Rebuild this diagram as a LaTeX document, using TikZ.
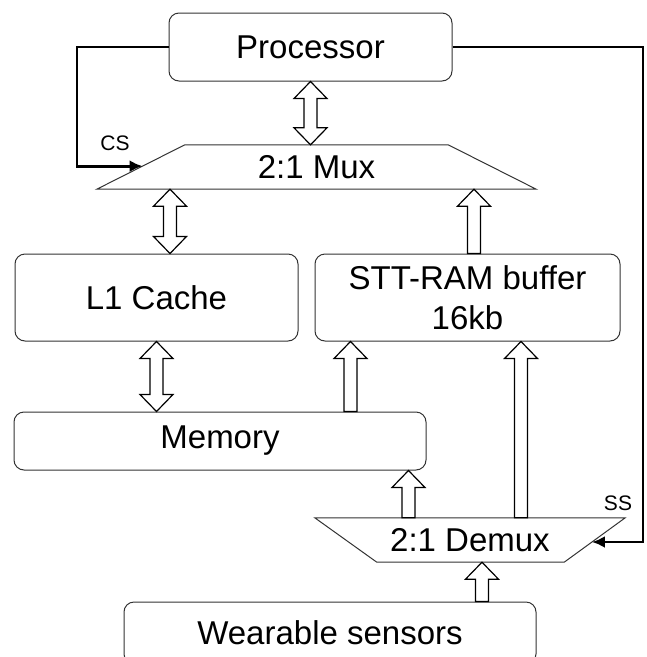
\documentclass[tikz,border=0pt]{standalone}
\usepackage{fontspec}
\setmainfont{Liberation Sans}
\usetikzlibrary{calc,arrows.meta}
\tikzset{
 box/.style={draw=black!80, line width=1pt, rounded corners=10pt, inner sep=0pt, align=center, font=\fontsize{33}{40}\selectfont},
 trapbox/.style={inner sep=0pt, font=\fontsize{33}{40}\selectfont},
 trapline/.style={draw=black!80, line width=1pt},
 fat/.style={draw=black, line width=1.2pt, fill=white, line join=miter},
 sig/.style={draw=black, line width=2.8pt, -{Latex[length=13pt,width=12pt]}},
 lbl/.style={font=\fontsize{21}{24}\selectfont},
}
\newcommand\dblarr[2]{\path[fat] let \p1=(#1), \p2=(#2) in (\x1,\y1) -- (\x1+16.5pt,\y1-17pt) -- (\x1+6.5pt,\y1-17pt) -- (\x1+6.5pt,\y2+17pt) -- (\x1+16.5pt,\y2+17pt) -- (\x1,\y2) -- (\x1-16.5pt,\y2+17pt) -- (\x1-6.5pt,\y2+17pt) -- (\x1-6.5pt,\y1-17pt) -- (\x1-16.5pt,\y1-17pt) -- cycle;}
\newcommand\uparr[2]{\path[fat] let \p1=(#1), \p2=(#2) in (\x1,\y1) -- (\x1+16.5pt,\y1-17pt) -- (\x1+6.5pt,\y1-17pt) -- (\x1+6.5pt,\y2) -- (\x1-6.5pt,\y2) -- (\x1-6.5pt,\y1-17pt) -- (\x1-16.5pt,\y1-17pt) -- cycle;}
\begin{document}
\begin{tikzpicture}[x=1pt,y=-1pt]
\useasboundingbox (0,0) rectangle (647,657);
% boxes
\node[box, minimum width=283pt, minimum height=68pt] (proc) at (310.5,47) {Processor};
\node[box, minimum width=283pt, minimum height=87pt] (l1) at (156.5,297.5) {L1 Cache};
\node[box, minimum width=305pt, minimum height=87pt] (stt) at (467.5,297.5) {STT-RAM buffer\\16kb};
\node[box, minimum width=412pt, minimum height=58pt] (mem) at (220,441) {Memory};
\node[box, minimum width=412pt, minimum height=62pt] (sens) at (330,633) {Wearable sensors};
% mux / demux
\node[trapbox, minimum width=439pt, minimum height=44pt] (mux) at (316.5,167) {2:1 Mux};
\coordinate (muxtl) at ($(mux.north west)+(88,0)$);
\coordinate (muxtr) at ($(mux.north east)+(-88,0)$);
\draw[trapline] (mux.south west) -- (muxtl) -- (muxtr) -- (mux.south east) -- cycle;
\node[trapbox, minimum width=310pt, minimum height=44pt] (demux) at (470,540) {2:1 Demux};
\coordinate (dmxbl) at ($(demux.south west)+(62,0)$);
\coordinate (dmxbr) at ($(demux.south east)+(-61,0)$);
\draw[trapline] (demux.north west) -- (demux.north east) -- (dmxbr) -- (dmxbl) -- cycle;
% hollow arrows
\dblarr{proc.south}{proc.south |- mux.north}
\coordinate (c2) at ($(l1.north)+(13.5,0)$);
\dblarr{c2 |- mux.south}{c2}
\coordinate (c3) at ($(stt.north)+(6.5,0)$);
\uparr{c3 |- mux.south}{c3}
\dblarr{l1.south}{l1.south |- mem.north}
\coordinate (c5) at ($(stt.south west)+(36,0)$);
\uparr{c5}{c5 |- mem.north}
\coordinate (c6) at ($(mem.south east)+(-18,0)$);
\uparr{c6}{c6 |- demux.north}
\coordinate (c7) at ($(stt.south)+(53.5,0)$);
\uparr{c7}{c7 |- demux.north}
\coordinate (c8) at ($(demux.south)+(12,0)$);
\uparr{c8}{c8 |- sens.north}
% control signals
\coordinate (cstip) at ($(mux.south west)!0.52!(muxtl)$);
\coordinate (sstip) at ($(demux.north east)!0.545!(dmxbr)$);
\coordinate (lx) at (77,0);
\coordinate (rx) at (643,0);
\draw[sig] (proc.west) -| (lx |- cstip) -- (cstip);
\draw[sig] (proc.east) -| (rx |- sstip) -- (sstip);
\node[lbl] (cs) at (115,143) {CS};
\node[lbl] (ss) at (618,503) {SS};
\end{tikzpicture}
\end{document}
